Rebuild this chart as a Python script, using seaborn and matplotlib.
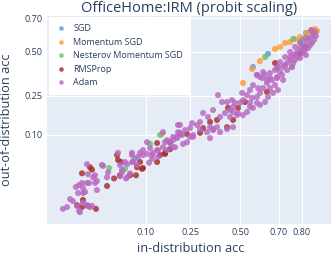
from statistics import NormalDist
import numpy as np
import pandas as pd
import seaborn as sns
import matplotlib
matplotlib.use("Agg")
import matplotlib.pyplot as plt

# in-distribution / out-of-distribution accuracy per run
sgd_id = [0.648, 0.570, 0.815, 0.0766]
sgd_ood = [0.488, 0.408, 0.616, 0.049]

momentum_id = [0.836, 0.819, 0.793, 0.773, 0.752, 0.730, 0.707, 0.683, 0.607, 0.565,
               0.516, 0.1443, 0.846, 0.853]
momentum_ood = [0.633, 0.616, 0.592, 0.580, 0.562, 0.556, 0.531, 0.519, 0.444, 0.396,
                0.315, 0.102, 0.639, 0.628]

nesterov_id = [0.633, 0.765, 0.801, 0.823, 0.793, 0.760, 0.0374, 0.0588, 0.1104, 0.1383, 0.840]
nesterov_ood = [0.469, 0.580, 0.574, 0.586, 0.556, 0.408, 0.036, 0.035, 0.077, 0.099, 0.616]

rmsprop_id = [0.0158, 0.0193, 0.0250, 0.0158, 0.0206, 0.0220, 0.0352, 0.0433, 0.0471, 0.0512,
              0.0672, 0.0806, 0.0527, 0.0868, 0.0935, 0.0785, 0.1296, 0.1383, 0.1538, 0.1705,
              0.1296, 0.2072, 0.2355, 0.1538, 0.1705, 0.3075, 0.2932, 0.3416, 0.3771, 0.4298,
              0.4353, 0.4621, 0.4891, 0.527, 0.643, 0.683, 0.793, 0.812, 0.0485, 0.0912,
              0.0133, 0.0163]
rmsprop_ood = [0.0081, 0.0085, 0.0075, 0.030, 0.037, 0.034, 0.0189, 0.025, 0.055, 0.028,
               0.028, 0.037, 0.044, 0.044, 0.036, 0.028, 0.079, 0.055, 0.059, 0.066,
               0.044, 0.102, 0.102, 0.057, 0.081, 0.119, 0.105, 0.139, 0.146, 0.122,
               0.193, 0.146, 0.193, 0.219, 0.268, 0.432, 0.494, 0.531, 0.047, 0.035,
               0.0088, 0.0109]

adam_id = [0.0080, 0.0093, 0.0104, 0.0115, 0.0133, 0.0143, 0.0163, 0.0193, 0.0220, 0.0128,
           0.0143, 0.0158, 0.0163, 0.0175, 0.0187, 0.0200, 0.0187, 0.0193, 0.0243, 0.0258,
           0.0243, 0.0138, 0.0163, 0.0302, 0.0352, 0.0512, 0.0542, 0.0588, 0.0621, 0.0709,
           0.0727, 0.0826, 0.0258, 0.0187, 0.0206, 0.0147, 0.0228, 0.0312, 0.0363, 0.0485,
           0.0542, 0.0621, 0.0709, 0.0709, 0.0806, 0.0672, 0.0605, 0.0512, 0.0868, 0.0935,
           0.1029, 0.1104, 0.1078, 0.1156, 0.1182, 0.1473, 0.1323, 0.1473, 0.1603, 0.1705,
           0.1810, 0.1957, 0.1883, 0.2072, 0.1994, 0.1538, 0.1603, 0.1810, 0.2614, 0.1296,
           0.1029, 0.0935, 0.1156, 0.1323, 0.1810, 0.2189, 0.2355, 0.2482, 0.2150, 0.2271,
           0.2482, 0.2569, 0.2793, 0.2932, 0.3075, 0.3318, 0.3416, 0.3568, 0.3771, 0.2614,
           0.1994, 0.1957, 0.2072, 0.3267, 0.3416, 0.2932, 0.3568, 0.3928, 0.4298, 0.4621,
           0.3824, 0.4032, 0.4298, 0.4566, 0.4729, 0.4837, 0.4459, 0.3928, 0.4192, 0.4459,
           0.4621, 0.500, 0.516, 0.511, 0.538, 0.554, 0.565, 0.570, 0.591, 0.618,
           0.633, 0.658, 0.683, 0.697, 0.643, 0.668, 0.693, 0.623, 0.597, 0.607,
           0.648, 0.673, 0.697, 0.570, 0.591, 0.554, 0.538, 0.516, 0.4891, 0.4621,
           0.607, 0.633, 0.554, 0.591, 0.3568, 0.693, 0.707, 0.721, 0.739, 0.752,
           0.765, 0.781, 0.793, 0.804, 0.819, 0.830, 0.840, 0.836, 0.823, 0.804,
           0.785, 0.765, 0.739, 0.716, 0.693, 0.658, 0.607, 0.591, 0.643, 0.623,
           0.846, 0.833, 0.812, 0.793, 0.773, 0.752, 0.730, 0.707, 0.773, 0.793,
           0.812, 0.830, 0.721, 0.683, 0.658, 0.730, 0.760, 0.849, 0.843, 0.815,
           0.801, 0.777, 0.752]
adam_ood = [0.0075, 0.0081, 0.0113, 0.0104, 0.0085, 0.0069, 0.0096, 0.0085, 0.0085, 0.0182,
            0.0196, 0.0211, 0.0175, 0.0150, 0.0211, 0.0211, 0.041, 0.029, 0.028, 0.0228,
            0.0211, 0.0144, 0.0144, 0.040, 0.026, 0.040, 0.034, 0.044, 0.026, 0.059,
            0.044, 0.052, 0.0162, 0.0088, 0.0081, 0.0065, 0.026, 0.0386, 0.031, 0.059,
            0.031, 0.041, 0.055, 0.044, 0.040, 0.030, 0.025, 0.027, 0.059, 0.055,
            0.081, 0.068, 0.043, 0.055, 0.059, 0.107, 0.064, 0.070, 0.064, 0.079,
            0.086, 0.094, 0.070, 0.105, 0.129, 0.081, 0.086, 0.094, 0.099, 0.064,
            0.057, 0.064, 0.049, 0.052, 0.070, 0.077, 0.081, 0.094, 0.099, 0.113,
            0.119, 0.135, 0.129, 0.139, 0.172, 0.157, 0.122, 0.113, 0.122, 0.094,
            0.107, 0.091, 0.129, 0.107, 0.091, 0.116, 0.116, 0.107, 0.116, 0.122,
            0.252, 0.219, 0.219, 0.228, 0.215, 0.164, 0.157, 0.157, 0.172, 0.184,
            0.197, 0.215, 0.228, 0.263, 0.252, 0.278, 0.238, 0.304, 0.361, 0.343,
            0.361, 0.372, 0.390, 0.408, 0.315, 0.332, 0.343, 0.288, 0.288, 0.263,
            0.243, 0.263, 0.278, 0.193, 0.215, 0.197, 0.176, 0.164, 0.172, 0.176,
            0.206, 0.219, 0.215, 0.243, 0.184, 0.402, 0.378, 0.408, 0.432, 0.451,
            0.481, 0.500, 0.525, 0.543, 0.562, 0.586, 0.610, 0.556, 0.525, 0.494,
            0.469, 0.432, 0.390, 0.361, 0.349, 0.343, 0.349, 0.361, 0.332, 0.378,
            0.622, 0.633, 0.586, 0.562, 0.531, 0.500, 0.469, 0.438, 0.451, 0.463,
            0.512, 0.543, 0.332, 0.304, 0.288, 0.420, 0.408, 0.598, 0.574, 0.481,
            0.512, 0.481, 0.469]

optimizers = ["SGD", "Momentum SGD", "Nesterov Momentum SGD", "RMSProp", "Adam"]
colors = ["#5b9bd5", "#ff9a33", "#6cc06a", "#a32c2c", "#b868bf"]

x_ticks = [0.10, 0.25, 0.50, 0.70, 0.80]
y_ticks = [0.10, 0.25, 0.50, 0.70]

df = pd.concat([
    pd.DataFrame({"id_acc": sgd_id, "ood_acc": sgd_ood, "optimizer": "SGD"}),
    pd.DataFrame({"id_acc": momentum_id, "ood_acc": momentum_ood, "optimizer": "Momentum SGD"}),
    pd.DataFrame({"id_acc": nesterov_id, "ood_acc": nesterov_ood, "optimizer": "Nesterov Momentum SGD"}),
    pd.DataFrame({"id_acc": rmsprop_id, "ood_acc": rmsprop_ood, "optimizer": "RMSProp"}),
    pd.DataFrame({"id_acc": adam_id, "ood_acc": adam_ood, "optimizer": "Adam"}),
], ignore_index=True)

# probit scale
_nd = NormalDist()
def probit(v):
    v = np.clip(np.asarray(v, dtype=float), 1e-6, 1 - 1e-6)
    return np.vectorize(_nd.inv_cdf, otypes=[float])(v)

def inv_probit(z):
    return np.vectorize(_nd.cdf, otypes=[float])(np.asarray(z, dtype=float))

txt = "#2a3f5f"
sns.set_theme(style="darkgrid", rc={"axes.facecolor": "#E5ECF6", "grid.color": "white",
                                    "grid.linewidth": 0.8})
plt.rcParams["font.family"] = ["Open Sans", "DejaVu Sans"]

fig = plt.figure(figsize=(3.32, 2.54), dpi=100)
ax = fig.add_axes([47 / 332, 30 / 254, 284 / 332, 208 / 254])
ax.set_xscale("function", functions=(probit, inv_probit))
ax.set_yscale("function", functions=(probit, inv_probit))

sns.scatterplot(data=df, x="id_acc", y="ood_acc", hue="optimizer", hue_order=optimizers,
                palette=colors, s=19, alpha=0.82, linewidth=0, ax=ax)

ax.set_xlim(0.00432, 0.892)
ax.set_ylim(0.00383, 0.7116)
ax.set_xticks(x_ticks)
ax.set_xticklabels([f"{t:.2f}" for t in x_ticks])
ax.set_yticks(y_ticks)
ax.set_yticklabels([f"{t:.2f}" for t in y_ticks])
ax.minorticks_off()
ax.tick_params(length=0, labelsize=6.6, colors=txt, pad=3)
for s in ax.spines.values():
    s.set_visible(False)

ax.set_xlabel("in-distribution acc", fontsize=9.2, color=txt)
ax.set_ylabel("out-of-distribution acc", fontsize=9.2, color=txt)
ax.xaxis.set_label_coords(0.507, -0.12)
ax.xaxis.label.set_va("center")
ax.yaxis.set_label_coords(-0.144, 0.5)
ax.yaxis.label.set_va("center")

fig.text(189 / 332, 1 - 9 / 254, "OfficeHome:IRM (probit scaling)", ha="center", va="center",
         fontsize=10.5, color=txt)

handles, labels = ax.get_legend_handles_labels()
leg = ax.legend(handles, labels, loc="upper left", bbox_to_anchor=(0.007, 0.995),
                borderaxespad=0, fontsize=6.5, frameon=True, fancybox=False,
                facecolor="white", edgecolor="none", framealpha=1,
                labelspacing=0.5, handlelength=1.0, handletextpad=0.9,
                borderpad=0.8, markerscale=0.75)
for t in leg.get_texts():
    t.set_color(txt)

fig.savefig("out.png", dpi=100)
